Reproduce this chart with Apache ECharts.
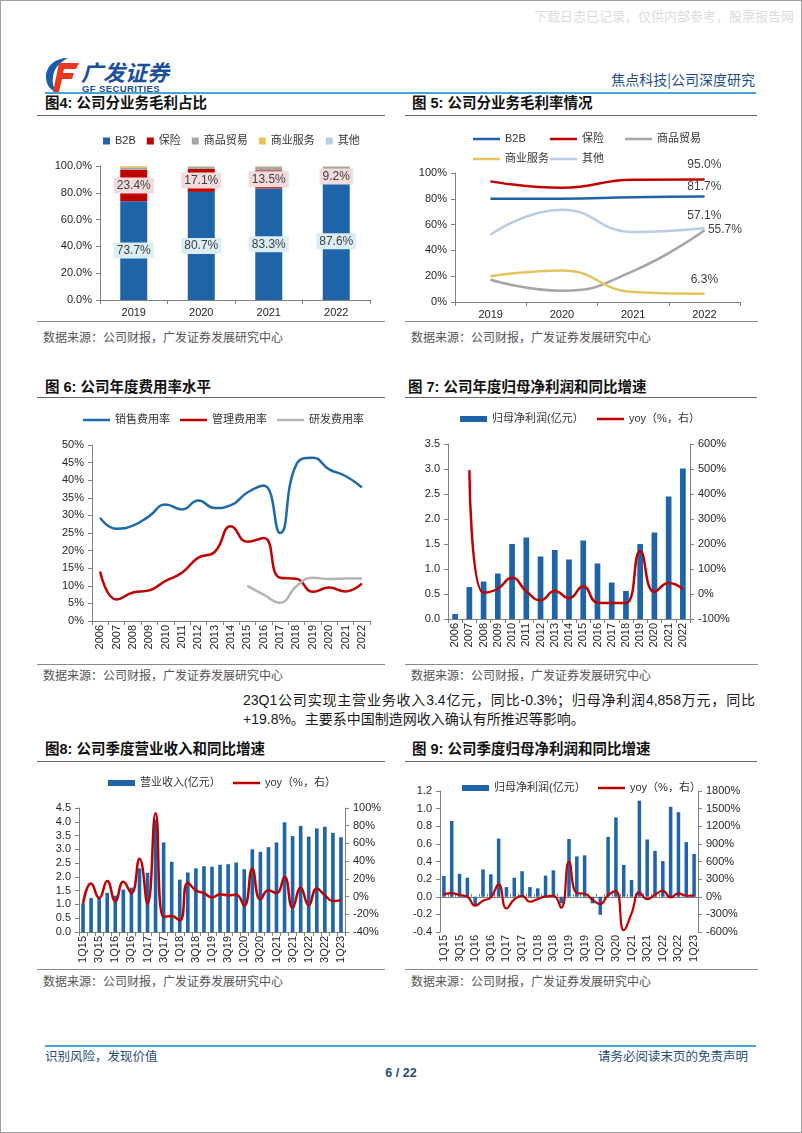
<!DOCTYPE html>
<html><head><meta charset="utf-8">
<script src="https://cdn.jsdelivr.net/npm/echarts@6/dist/echarts.min.js"></script>
<style>
html,body{margin:0;padding:0;background:#fff;}
#page{position:relative;width:802px;height:1133px;overflow:hidden;font-family:"Liberation Sans","Noto Sans CJK SC",sans-serif;}
.abs{position:absolute;white-space:nowrap;}
.title{font-size:14.5px;line-height:16px;font-weight:bold;color:#111;font-family:"Liberation Sans","Noto Sans CJK SC",sans-serif;}
.src{font-size:12px;line-height:14px;color:#555;font-family:"Noto Sans CJK SC",sans-serif;}
.hl{position:absolute;height:0;border-top:1.5px solid #6a6a6a;}
.sl{position:absolute;height:0;border-top:1.5px solid #8a8a8a;}
.bl{position:absolute;height:0;border-top:2px solid #45a6d6;}
.chart{position:absolute;}
.para{font-size:14px;line-height:18px;color:#1a1a1a;font-family:"Liberation Sans","Noto Sans CJK SC",sans-serif;}
.foot{font-size:12.5px;line-height:14px;color:#1f4e79;font-family:"Noto Sans CJK SC",sans-serif;}
</style></head>
<body>
<div id="page">
  <div class="abs" style="left:0;top:0;width:800px;height:1131px;border:1px solid #a0a0a0;"></div>
  <div class="abs" style="left:534px;top:8px;font-size:13px;line-height:15px;color:#dcdcdc;font-family:'Noto Sans CJK SC';">下载日志已记录，仅供内部参考，股票报告网</div>

  <svg class="abs" style="left:44px;top:57px" width="36" height="36" viewBox="0 0 36 36">
    <path d="M24 1 C11 1 2 9 2 20 C2 28 7 34 13 35 C9 30 8 25 9 20 C10 11 16 5 24 1Z" fill="#1a5bab"/>
    <path d="M15 6 H35 L32 12 H20 L19 16 H30 L28 22 H18 L15 35 H9 Z" fill="#e8391e"/>
  </svg>
  <div class="abs" style="left:81px;top:60px;font-size:22px;line-height:22px;font-weight:bold;font-style:italic;color:#1a4f9c;font-family:'Noto Sans CJK SC';">广发证券</div>
  <div class="abs" style="left:82px;top:84px;font-size:9.5px;line-height:10px;font-weight:bold;color:#1a4f9c;letter-spacing:0.4px;">GF SECURITIES</div>
  <div class="abs" style="right:47px;top:71px;font-size:14px;line-height:16px;color:#1f4e8c;font-family:'Noto Sans CJK SC';">焦点科技|公司深度研究</div>
  <div class="bl" style="left:45px;top:92px;width:711px;"></div>

  <div class="abs title" style="left:45px;top:95px;">图4: 公司分业务毛利占比</div>
  <div class="abs title" style="left:412px;top:95px;">图 5: 公司分业务毛利率情况</div>
  <div class="hl" style="left:37px;top:115px;width:348px;"></div>
  <div class="hl" style="left:405px;top:115px;width:352px;"></div>

  <div class="chart" id="c4" style="left:37px;top:118px;width:350px;height:202px;"></div>
  <div class="chart" id="c5" style="left:405px;top:118px;width:355px;height:202px;"></div>
  <div class="sl" style="left:37px;top:321px;width:348px;"></div>
  <div class="sl" style="left:405px;top:321px;width:353px;"></div>
  <div class="abs src" style="left:43px;top:330px;">数据来源：公司财报，广发证券发展研究中心</div>
  <div class="abs src" style="left:411px;top:330px;">数据来源：公司财报，广发证券发展研究中心</div>

  <div class="abs title" style="left:45px;top:379px;">图 6: 公司年度费用率水平</div>
  <div class="abs title" style="left:408px;top:379px;">图 7: 公司年度归母净利润和同比增速</div>
  <div class="hl" style="left:37px;top:397px;width:348px;"></div>
  <div class="hl" style="left:405px;top:397px;width:352px;"></div>

  <div class="chart" id="c6" style="left:37px;top:398px;width:350px;height:264px;"></div>
  <div class="chart" id="c7" style="left:405px;top:398px;width:355px;height:264px;"></div>
  <div class="sl" style="left:37px;top:664px;width:348px;"></div>
  <div class="sl" style="left:405px;top:664px;width:353px;"></div>
  <div class="abs src" style="left:43px;top:668px;">数据来源：公司财报，广发证券发展研究中心</div>
  <div class="abs src" style="left:411px;top:668px;">数据来源：公司财报，广发证券发展研究中心</div>

  <div class="abs para" style="left:243px;top:691px;width:512px;text-align:justify;text-align-last:justify;">23Q1公司实现主营业务收入3.4亿元，同比-0.3%；归母净利润4,858万元，同比</div>
  <div class="abs para" style="left:243px;top:710px;">+19.8%。主要系中国制造网收入确认有所推迟等影响。</div>

  <div class="abs title" style="left:45px;top:741px;">图8: 公司季度营业收入和同比增速</div>
  <div class="abs title" style="left:412px;top:741px;">图 9: 公司季度归母净利润和同比增速</div>
  <div class="hl" style="left:37px;top:761px;width:348px;"></div>
  <div class="hl" style="left:405px;top:761px;width:352px;"></div>

  <div class="chart" id="c8" style="left:37px;top:762px;width:350px;height:206px;"></div>
  <div class="chart" id="c9" style="left:405px;top:762px;width:355px;height:206px;"></div>
  <div class="sl" style="left:37px;top:969px;width:348px;"></div>
  <div class="sl" style="left:405px;top:969px;width:353px;"></div>
  <div class="abs src" style="left:43px;top:974px;">数据来源：公司财报，广发证券发展研究中心</div>
  <div class="abs src" style="left:411px;top:974px;">数据来源：公司财报，广发证券发展研究中心</div>

  <div class="bl" style="left:45px;top:1045px;width:711px;"></div>
  <div class="abs foot" style="left:45px;top:1049px;">识别风险，发现价值</div>
  <div class="abs foot" style="right:54px;top:1049px;">请务必阅读末页的免责声明</div>
  <div class="abs foot" style="left:0;width:802px;text-align:center;top:1066px;font-weight:bold;font-family:'Liberation Sans';">6 / 22</div>
</div>

<script>
// ---------- data ----------
const years4 = ['2019', '2020', '2021', '2022'];
const b2bShare = [73.7, 80.7, 83.3, 87.6];
const insShare = [23.4, 17.1, 13.5, 9.2];
const tradeShare = [1.4, 1.6, 2.4, 2.6];
const svcShare = [1.3, 0.4, 0.6, 0.4];
const otherShare = [0.2, 0.2, 0.2, 0.2];

const b2bMargin = [80.0, 80.0, 81.2, 81.7];
const insMargin = [93.5, 88.5, 94.8, 95.0];
const tradeMargin = [17.3, 8.8, 24.0, 55.7];
const svcMargin = [19.9, 24.5, 7.8, 6.3];
const otherMargin = [52.2, 71.6, 54.3, 57.1];

const years17 = ['2006','2007','2008','2009','2010','2011','2012','2013','2014','2015','2016','2017','2018','2019','2020','2021','2022'];
const sellRate = [29.3, 26.2, 27.1, 29.8, 33.1, 31.7, 34.2, 32.1, 32.9, 36.5, 38.5, 25.0, 44.5, 46.4, 43.1, 41.2, 38.0];
const adminRate = [14.0, 6.1, 8.1, 8.7, 11.4, 13.7, 18.0, 19.6, 26.9, 22.5, 23.6, 12.3, 12.0, 8.3, 9.5, 8.4, 10.6];
const rdRate = [null, null, null, null, null, null, null, null, null, 10.0, 7.5, 5.2, 9.9, 12.3, 11.9, 12.1, 12.1];

const annualProfit = [0.10, 0.64, 0.75, 0.91, 1.50, 1.63, 1.25, 1.38, 1.19, 1.57, 1.11, 0.73, 0.56, 1.50, 1.73, 2.45, 3.01];
const annualYoy = [null, 495, 5, 21, 65, 11, -25, 12, -17, 31, -35, -36, -36, 171, 8, 44, 20];

const quarters = ['1Q15','2Q15','3Q15','4Q15','1Q16','2Q16','3Q16','4Q16','1Q17','2Q17','3Q17','4Q17','1Q18','2Q18','3Q18','4Q18','1Q19','2Q19','3Q19','4Q19','1Q20','2Q20','3Q20','4Q20','1Q21','2Q21','3Q21','4Q21','1Q22','2Q22','3Q22','4Q22','1Q23'];
const qRevenue = [1.03, 1.23, 1.23, 1.42, 1.32, 1.54, 1.61, 2.31, 2.15, 4.08, 3.25, 2.55, 1.90, 2.16, 2.31, 2.39, 2.37, 2.44, 2.46, 2.52, 2.28, 3.00, 2.91, 3.08, 3.25, 3.98, 3.48, 3.85, 3.46, 3.76, 3.82, 3.60, 3.44];
const qRevenueYoy = [-8, 14.7, -1.5, 17.7, -5, 16.6, 4, 42.6, -8, 94, -23, -22, -27, 15.5, 7, 4, -1, 2.6, 1.5, 2, -10, 31, -3.4, 7, 4, 22, -12.5, 10, -10, 9, 1.5, -5, -4];
const qProfit = [0.235, 0.86, 0.26, 0.216, -0.10, 0.31, 0.254, 0.66, 0.11, 0.216, 0.29, 0.11, 0.095, 0.24, 0.30, -0.075, 0.655, 0.458, 0.47, -0.075, -0.205, 0.68, 0.90, 0.36, 0.19, 1.09, 0.65, 0.52, 0.405, 1.02, 0.96, 0.62, 0.485];
const qProfitYoy = [40, 62, 28, 0, -153, -68, -11, 210, -200, -45, 17, -85, -40, 6, 17, -187, 597, 62, 51, -50, -125, 28, 97, -570, -284, 74, -40, 34, 102, -11, 57, 17, 20];

// ---------- styles ----------
const AX = '#808080';
const BLUE = '#1f64a8', RED = '#c00000';
const NUM = {color: '#262626', fontSize: 11, fontFamily: 'Liberation Sans, Arial, sans-serif'};
const LGT = {color: '#333', fontSize: 11, lineHeight: 14, fontFamily: 'Liberation Sans, Noto Sans CJK SC, sans-serif'};
const pct = v => v + '%';

function mk(id, opt) {
  const c = echarts.init(document.getElementById(id));
  opt.animation = false;
  c.setOption(opt);
}
function lg(name, left, top, h) {
  return {data: [name], left: left, top: top, padding: 0, itemGap: 0, selectedMode: false,
          icon: 'rect', itemWidth: 27, itemHeight: h, textStyle: LGT};
}
function vAxis(min, max, interval, fmt, pos, margin) {
  return {type: 'value', min: min, max: max, interval: interval, position: pos || 'left',
    axisLine: {show: true, lineStyle: {color: AX}},
    axisTick: {show: true, length: 4, lineStyle: {color: AX}},
    splitLine: {show: false},
    axisLabel: Object.assign({}, NUM, {margin: margin || 8, formatter: fmt})};
}
function cAxis(data, rotate, labelInterval, margin) {
  return {type: 'category', data: data,
    axisLine: {lineStyle: {color: AX}},
    axisTick: {show: true, interval: 0, length: 4, lineStyle: {color: AX}},
    axisLabel: Object.assign({}, NUM, {rotate: rotate || 0, interval: labelInterval || 0, margin: margin})};
}
function lineS(name, data, color, extra) {
  return Object.assign({name: name, type: 'line', data: data, smooth: true, symbol: 'circle', symbolSize: 1,
    showSymbol: true, lineStyle: {width: 2.5, color: color}, itemStyle: {color: color}}, extra || {});
}
function lastLabel(arr, pos, dist) {
  return arr.map((v, i) => i === arr.length - 1 ?
    {value: v, label: {show: true, position: pos, distance: dist, formatter: p => p.value.toFixed(1) + '%',
      color: '#404040', fontSize: 12, fontFamily: 'Liberation Sans, Arial'}} : v);
}

// ---------- chart 4 ----------
const boxLbl = bg => ({show: true, position: 'inside', formatter: '{c}%', backgroundColor: bg, padding: [2, 3],
  color: '#404040', fontSize: 12, fontFamily: 'Liberation Sans, Arial'});
mk('c4', {
  grid: {left: 63, top: 48, width: 270, height: 134},
  legend: {data: ['B2B', '保险', '商品贸易', '商业服务', '其他'], left: 66, top: 16, icon: 'rect',
    itemWidth: 7, itemHeight: 7, itemGap: 11, padding: 0, selectedMode: false, textStyle: LGT},
  xAxis: cAxis(years4, 0, 0, 7),
  yAxis: vAxis(0, 100, 20, v => v.toFixed(1) + '%'),
  series: [
    {name: 'B2B', type: 'bar', stack: 's', data: b2bShare, barWidth: '40%', itemStyle: {color: BLUE}, label: boxLbl('#dbeef4')},
    {name: '保险', type: 'bar', stack: 's', data: insShare, itemStyle: {color: RED}, label: boxLbl('#f2dcdb')},
    {name: '商品贸易', type: 'bar', stack: 's', data: tradeShare, itemStyle: {color: '#a6a6a6'}},
    {name: '商业服务', type: 'bar', stack: 's', data: svcShare, itemStyle: {color: '#e6c35c'}},
    {name: '其他', type: 'bar', stack: 's', data: otherShare, itemStyle: {color: '#b8cce4'}}
  ]
});

// ---------- chart 5 ----------
mk('c5', {
  grid: {left: 50, top: 55, width: 285, height: 129},
  legend: [lg('B2B', 68, 14, 2.5), lg('保险', 145, 14, 2.5), lg('商品贸易', 220, 14, 2.5),
           lg('商业服务', 68, 34, 2.5), lg('其他', 145, 34, 2.5)],
  xAxis: cAxis(years4, 0, 0, 7),
  yAxis: vAxis(0, 100, 20, pct),
  series: [
    lineS('B2B', lastLabel(b2bMargin, 'top', 3), '#1f64a8'),
    lineS('保险', lastLabel(insMargin, 'top', 8), RED),
    lineS('商品贸易', lastLabel(tradeMargin, 'right', 3), '#a6a6a6'),
    lineS('商业服务', lastLabel(svcMargin, 'top', 8), '#e6c35c'),
    lineS('其他', lastLabel(otherMargin, 'top', 6), '#b8cce4')
  ]
});

// ---------- chart 6 ----------
mk('c6', {
  grid: {left: 55, top: 47, width: 278, height: 176},
  legend: [lg('销售费用率', 46, 15, 2.5), lg('管理费用率', 143, 15, 2.5), lg('研发费用率', 240, 15, 2.5)],
  xAxis: cAxis(years17, 90, 0, 4),
  yAxis: vAxis(0, 50, 5, pct),
  series: [
    lineS('销售费用率', sellRate, '#1f6aa8'),
    lineS('管理费用率', adminRate, RED),
    lineS('研发费用率', rdRate, '#b4b4b4')
  ]
});

// ---------- chart 7 ----------
mk('c7', {
  grid: {left: 43, top: 46, width: 242, height: 175},
  legend: [lg('归母净利润(亿元）', 55, 14, 6), lg('yoy（%，右）', 192, 14, 2.5)],
  xAxis: cAxis(years17, 90, 0, 4),
  yAxis: [vAxis(0, 3.5, 0.5, v => v.toFixed(1)), vAxis(-100, 600, 100, pct, 'right', 8)],
  series: [
    {name: '归母净利润(亿元）', type: 'bar', data: annualProfit, barWidth: '40%', itemStyle: {color: BLUE}},
    lineS('yoy（%，右）', annualYoy, RED, {yAxisIndex: 1})
  ]
});

// ---------- chart 8 ----------
mk('c8', {
  grid: {left: 42, top: 46, width: 266, height: 124},
  legend: [lg('营业收入(亿元）', 71, 14, 6), lg('yoy（%，右）', 196, 14, 2.5)],
  xAxis: cAxis(quarters, 90, 1, 4),
  yAxis: [vAxis(0, 4.5, 0.5, v => v.toFixed(1)), vAxis(-40, 100, 20, pct, 'right', 8)],
  series: [
    {name: '营业收入(亿元）', type: 'bar', data: qRevenue, barWidth: '45%', itemStyle: {color: BLUE}},
    lineS('yoy（%，右）', qRevenueYoy, RED, {yAxisIndex: 1})
  ]
});

// ---------- chart 9 ----------
const x9a = cAxis(quarters, 90, 1, 3);
x9a.axisLine = {show: false, onZero: false};
x9a.axisTick = {show: false};
const x9b = cAxis(quarters, 0, 0, 4);
x9b.axisLine = {show: true, onZero: true, lineStyle: {color: AX}};
x9b.axisTick = {show: true, interval: 0, length: 3, lineStyle: {color: AX}};
x9b.axisLabel = {show: false};
mk('c9', {
  grid: {left: 35, top: 29, width: 258, height: 141},
  legend: [lg('归母净利润(亿元）', 57, 19, 6), lg('yoy（%，右）', 193, 19, 2.5)],
  xAxis: [x9a, x9b],
  yAxis: [vAxis(-0.4, 1.2, 0.2, v => v.toFixed(1)), vAxis(-600, 1800, 300, pct, 'right', 8)],
  series: [
    {name: '归母净利润(亿元）', type: 'bar', data: qProfit, barWidth: '45%', itemStyle: {color: BLUE}},
    lineS('yoy（%，右）', qProfitYoy, RED, {yAxisIndex: 1, lineStyle: {width: 2.2, color: RED}})
  ]
});
</script>
</body></html>
